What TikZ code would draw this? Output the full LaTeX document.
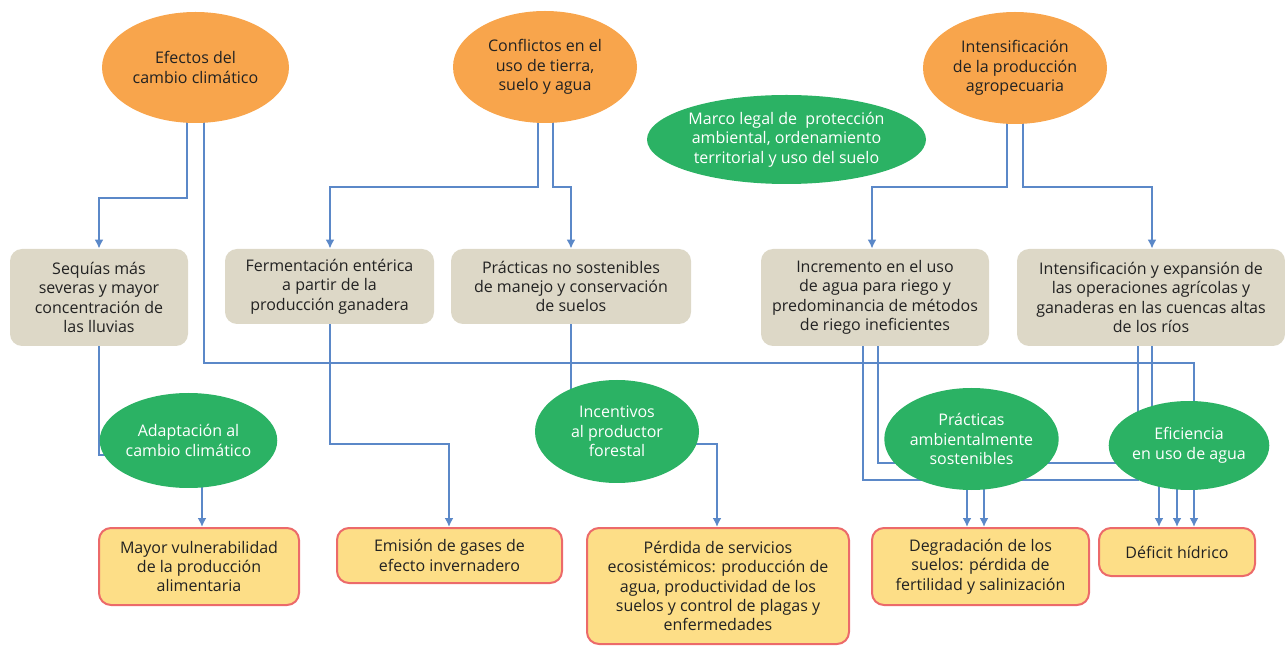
\documentclass[tikz,border=0pt]{standalone}
\usepackage{fontspec}
\setmainfont{Open Sans}
\usetikzlibrary{arrows.meta,shapes,backgrounds}
\definecolor{naranja}{HTML}{F8A54C}
\definecolor{verde}{HTML}{2BB264}
\definecolor{gris}{HTML}{DDD8C7}
\definecolor{amarillo}{HTML}{FDDE87}
\definecolor{rojo}{HTML}{EC6A6A}
\definecolor{azul}{HTML}{5B88C8}
\definecolor{texto}{HTML}{222222}

\begin{document}
\begin{tikzpicture}[x = .5pt, y = -.5pt, font = \fontsize{8}{9.7}\selectfont,
  oval/.style = {ellipse, inner sep = 0pt, align = center, text = texto},
  causa/.style = {oval, fill = naranja},
  accion/.style = {oval, fill = verde, text = white},
  factor/.style = {rectangle, rounded corners = 6pt, fill = gris, inner sep = 0pt, align = center, text = texto},
  efecto/.style = {rectangle, rounded corners = 6pt, fill = amarillo, draw = rojo, line width = 1pt, inner sep = 0pt, align = center, text = texto},
  enlace/.style = {draw = azul, line width = 1.3pt},
  flecha/.style = {enlace, -{Latex[length = 4.5pt, width = 4.5pt]}}]
\useasboundingbox (0,0) rectangle (1285,646);

\node[causa, minimum width = 93.5pt, minimum height = 55.5pt] (cc) at (195.5,67.5) {Efectos del\\cambio climático};
\node[causa, minimum width = 92pt, minimum height = 56pt] (conf) at (545,67) {Conflictos en el\\uso de tierra,\\suelo y agua};
\node[causa, minimum width = 92pt, minimum height = 56pt] (intp) at (1015,68) {Intensificación\\de la producción\\agropecuaria};
\node[accion, minimum width = 139.5pt, minimum height = 44.5pt] (marco) at (786.5,139.5) {Marco legal de \ protección\\ambiental, ordenamiento\\territorial y uso del suelo};

\node[factor, minimum width = 89pt, minimum height = 48.5pt] (seq) at (99,297.5) {Sequías más\\severas y mayor\\concentración de\\las lluvias};
\node[factor, minimum width = 104.5pt, minimum height = 37.5pt] (ferm) at (329.5,286.5) {Fermentación entérica\\a partir de la\\producción ganadera};
\node[factor, minimum width = 120pt, minimum height = 37.5pt] (prac) at (571,286.5) {Prácticas no sostenibles\\de manejo y conservación\\de suelos};
\node[factor, minimum width = 114pt, minimum height = 48.5pt] (incr) at (875,297.5) {Incremento en el uso\\de agua para riego y\\predominancia de métodos\\de riego ineficientes};
\node[factor, minimum width = 134pt, minimum height = 48.5pt] (inte) at (1151,297.5) {Intensificación y expansión de\\las operaciones agrícolas y\\ganaderas en las cuencas altas\\de los ríos};

\node[accion, minimum width = 81.5pt, minimum height = 47.5pt] (adap) at (188.5,440.5) {Adaptación al\\cambio climático};
\node[accion, minimum width = 82pt, minimum height = 51.5pt] (ince) at (617,431.5) {Incentivos\\al productor\\forestal};
\node[accion, minimum width = 79.5pt, minimum height = 51pt] (pract) at (971.5,439) {Prácticas\\ambientalmente\\sostenibles};
\node[accion, minimum width = 76pt, minimum height = 44.5pt] (efic) at (1189,445.5) {Eficiencia\\en uso de agua};

\node[efecto, minimum width = 100pt, minimum height = 38.5pt] (vuln) at (199,566.5) {Mayor vulnerabilidad\\de la producción\\alimentaria};
\node[efecto, minimum width = 112.5pt, minimum height = 27.5pt] (emis) at (449.5,555.5) {Emisión de gases de\\efecto invernadero};
\node[efecto, minimum width = 131pt, minimum height = 58pt] (perd) at (718,586) {Pérdida de servicios\\ecosistémicos: producción de\\agua, productividad de los\\suelos y control de plagas y\\enfermedades};
\node[efecto, minimum width = 108.5pt, minimum height = 38.5pt] (degr) at (980.5,566.5) {Degradación de los\\suelos: pérdida de\\fertilidad y salinización};
\node[efecto, minimum width = 78pt, minimum height = 24pt] (defi) at (1177,552) {Déficit hídrico};

\begin{scope}[on background layer]
\draw[flecha] (cc.center -| 187,0) |- (99,198) -- (seq.north -| 99,0);
\draw[enlace] (cc.center -| 204,0) |- (1194,363) -- (efic.center -| 1194,0);
\draw[flecha] (conf.center -| 538,0) |- (330,187) -- (ferm.north -| 330,0);
\draw[flecha] (conf.center -| 553,0) |- (571,187) -- (prac.north -| 571,0);
\draw[flecha] (intp.center -| 1007,0) |- (872,187) -- (incr.north -| 872,0);
\draw[flecha] (intp.center -| 1023,0) |- (1152,187) -- (inte.north -| 1152,0);

\draw[enlace] (seq.center -| 99,0) |- (adap.center |- 0,455);
\draw[flecha] (adap.center -| 202,0) -- (vuln.north -| 202,0);
\draw[flecha] (ferm.center -| 330,0) |- (449,444) -- (emis.north -| 449,0);
\draw[enlace] (prac.center -| 571,0) -- (ince.center -| 571,0);
\draw[flecha] (ince.center |- 0,444) -| (perd.north -| 717,0);

\draw[enlace] (incr.center -| 863,0) |- (1138,480) -- (inte.center -| 1138,0);
\draw[enlace] (incr.center -| 878,0) |- (efic.center |- 0,463);
\draw[enlace] (inte.center -| 1152,0) -- (efic.center -| 1152,0);
\draw[flecha] (pract.center -| 967,0) -- (degr.north -| 967,0);
\draw[flecha] (pract.center -| 984,0) -- (degr.north -| 984,0);
\draw[flecha] (efic.center -| 1159,0) -- (defi.north -| 1159,0);
\draw[flecha] (efic.center -| 1177,0) -- (defi.north -| 1177,0);
\draw[flecha] (efic.center -| 1194,0) -- (defi.north -| 1194,0);
\end{scope}
\end{tikzpicture}
\end{document}
